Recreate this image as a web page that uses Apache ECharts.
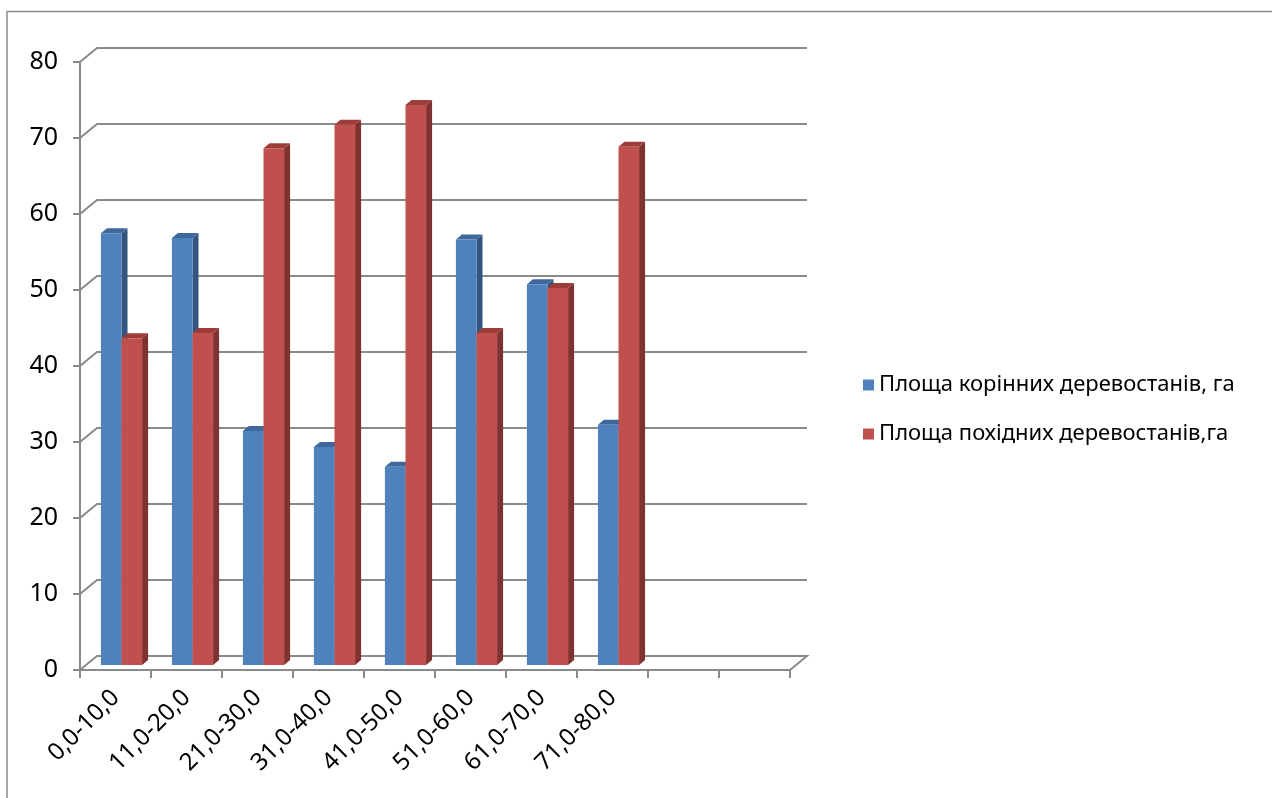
<!DOCTYPE html>
<html>
<head>
<meta charset="utf-8">
<script src="https://cdn.jsdelivr.net/npm/echarts@6/dist/echarts.min.js"></script>
<style>
  html, body { margin: 0; padding: 0; background: #fff; }
  #chart { width: 1272px; height: 798px; }
</style>
</head>
<body>
<div id="chart"></div>
<script>
// Категорії (діапазони) та значення
const categories = ["0,0-10,0", "11,0-20,0", "21,0-30,0", "31,0-40,0", "41,0-50,0",
                    "51,0-60,0", "61,0-70,0", "71,0-80,0", "", ""];
const rootArea    = [56.8, 56.2, 30.8, 28.7, 26.1, 56.0, 50.1, 31.6];
const derivedArea = [43.0, 43.7, 68.0, 71.1, 73.7, 43.7, 49.6, 68.2];
const seriesNames = ["Площа корінних деревостанів, га", "Площа похідних деревостанів,га"];
const gridValues  = [0, 10, 20, 30, 40, 50, 60, 70, 80];

const GRAY = "#8a8a8a";
const FONT = "Noto Sans";

// Кольори граней: фронт, бік, верх
const faces = [
  { front: "#4f81bd", side: "#34557f", top: "#3e689c" },
  { front: "#c0504d", side: "#7f3230", top: "#9c3d3a" }
];

// Зсув "глибини" стін і стовпців
const WALL_DX = 17, WALL_DY = -14;
const BAR_SHIFT_X = 6, BAR_SHIFT_Y = -5;
const BAR_DX = 6, BAR_DY = -5;

function barRenderer(idx) {
  return function (params, api) {
    const cat = api.value(0);
    const val = api.value(1);
    const base = api.coord([cat, 0]);
    const top = api.coord([cat, val]);
    const band = api.size([1, 0])[0];
    const w = band * 0.29;
    const cx = base[0] + BAR_SHIFT_X;
    const L = idx === 0 ? cx - w : cx;
    const R = L + w;
    const yb = base[1] + BAR_SHIFT_Y;
    const yt = top[1] + BAR_SHIFT_Y;
    const c = faces[idx];
    return {
      type: "group",
      children: [
        { type: "polygon", shape: { points: [[R, yt], [R + BAR_DX, yt + BAR_DY], [R + BAR_DX, yb + BAR_DY], [R, yb]] },
          style: { fill: c.side } },
        { type: "polygon", shape: { points: [[L, yt], [L + BAR_DX, yt + BAR_DY], [R + BAR_DX, yt + BAR_DY], [R, yt]] },
          style: { fill: c.top } },
        { type: "rect", shape: { x: L, y: yt, width: w, height: yb - yt },
          style: { fill: c.front } }
      ]
    };
  };
}

function gridRenderer(params, api) {
  const v = api.value(0);
  const cs = params.coordSys;
  const y = api.coord([0, v])[1];
  const x0 = cs.x, x1 = cs.x + cs.width;
  const pts = [[x0, y], [x0 + WALL_DX, y + WALL_DY], [x1 + WALL_DX, y + WALL_DY]];
  if (v === 0) pts.push([x1, y]);
  return {
    type: "polyline",
    shape: { points: pts },
    style: { stroke: GRAY, lineWidth: 2, fill: null }
  };
}

const chart = echarts.init(document.getElementById("chart"), null, { renderer: "canvas" });

chart.setOption({
  animation: false,
  backgroundColor: "#fff",
  textStyle: { fontFamily: FONT },
  graphic: [{
    type: "polyline",
    shape: { points: [[7, 798], [7, 11.5], [1272, 11.5]] },
    style: { stroke: GRAY, lineWidth: 1.5, fill: null }
  }],
  legend: {
    orient: "vertical",
    left: 858,
    top: 369,
    itemWidth: 11,
    itemHeight: 11,
    itemGap: 27,
    itemStyle: { borderWidth: 0 },
    icon: "rect",
    textStyle: { fontSize: 22, color: "#000", fontFamily: FONT },
    data: seriesNames
  },
  grid: { left: 80, right: 482, top: 62, bottom: 128 },
  xAxis: {
    type: "category",
    data: categories,
    boundaryGap: true,
    axisLine: { show: true, lineStyle: { color: GRAY, width: 2 } },
    axisTick: { show: true, length: 8, interval: 0, lineStyle: { color: GRAY, width: 2 } },
    axisLabel: { interval: 0, rotate: 45, fontSize: 24, color: "#000", margin: 24, fontFamily: FONT },
    splitLine: { show: false }
  },
  yAxis: {
    type: "value",
    min: 0,
    max: 80,
    interval: 10,
    axisLine: { show: true, lineStyle: { color: GRAY, width: 2 } },
    axisTick: { show: true, length: 7, lineStyle: { color: GRAY, width: 2 } },
    axisLabel: { fontSize: 25, color: "#000", margin: 22, fontFamily: FONT },
    splitLine: { show: false }
  },
  series: [
    {
      type: "custom",
      name: "grid",
      silent: true,
      z: 1,
      renderItem: gridRenderer,
      encode: { y: 0 },
      data: gridValues.map(v => [v])
    },
    {
      type: "custom",
      name: seriesNames[0],
      z: 3,
      itemStyle: { color: faces[0].front },
      renderItem: barRenderer(0),
      encode: { x: 0, y: 1 },
      data: rootArea.map((v, i) => [i, v])
    },
    {
      type: "custom",
      name: seriesNames[1],
      z: 3,
      itemStyle: { color: faces[1].front },
      renderItem: barRenderer(1),
      encode: { x: 0, y: 1 },
      data: derivedArea.map((v, i) => [i, v])
    }
  ]
});
</script>
</body>
</html>
